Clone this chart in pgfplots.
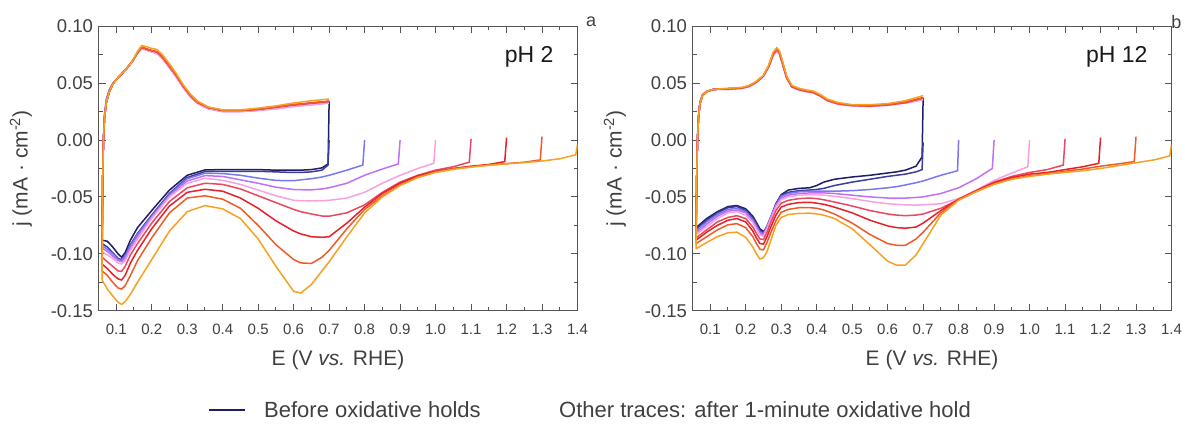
\documentclass[border=0pt]{standalone}
\usepackage{fontspec}
\setmainfont{Liberation Sans}
\usepackage{pgfplots}
\usepackage{pgfplotstable}
\pgfplotsset{compat=1.18}
\definecolor{tn0}{HTML}{1E1E64}
\definecolor{tn1}{HTML}{3C3CA0}
\definecolor{tb}{HTML}{7878F0}
\definecolor{tp}{HTML}{C070F8}
\definecolor{tk}{HTML}{F8A0E0}
\definecolor{tc}{HTML}{E84860}
\definecolor{tr}{HTML}{E82028}
\definecolor{to}{HTML}{F05A28}
\definecolor{ty}{HTML}{F8A020}
\definecolor{txt}{HTML}{404040}
\definecolor{axg}{HTML}{555555}

% pH 2, cathodic sweeps (from the hold potential down)
\pgfplotstableread{
E n0 n1 b p k c r o y
1.400 nan nan nan nan nan nan nan nan -0.004
1.395 nan nan nan nan nan nan nan nan -0.013
1.350 nan nan nan nan nan nan nan nan -0.0165
1.300 nan nan nan nan nan nan nan 0.003 -0.0185
1.295 nan nan nan nan nan nan nan -0.0175 nan
1.250 nan nan nan nan nan nan nan -0.0195 -0.0198
1.200 nan nan nan nan nan nan 0.002 -0.0207 -0.021
1.195 nan nan nan nan nan nan -0.019 nan nan
1.150 nan nan nan nan nan nan -0.0215 -0.022 -0.0222
1.100 nan nan nan nan nan 0.001 -0.023 -0.0235 -0.0238
1.095 nan nan nan nan nan -0.0195 nan nan nan
1.050 nan nan nan nan nan -0.0235 -0.025 -0.0253 -0.0258
1.000 nan nan nan nan 0.000 -0.0265 -0.0275 -0.028 -0.0285
0.995 nan nan nan nan -0.0205 nan nan nan nan
0.950 nan nan nan nan -0.025 -0.031 -0.0315 -0.0325 -0.033
0.900 nan nan nan 0.000 -0.031 -0.037 -0.038 -0.0395 -0.040
0.895 nan nan nan -0.021 nan nan nan nan nan
0.850 nan nan nan -0.0255 -0.038 -0.046 -0.047 -0.049 -0.050
0.800 nan nan 0.000 -0.031 -0.046 -0.057 -0.059 -0.061 -0.064
0.795 nan nan -0.022 nan nan nan nan nan nan
0.750 nan nan -0.0265 -0.038 -0.051 -0.064 -0.073 -0.078 -0.085
0.700 0.034 0.000 -0.031 -0.042 -0.053 -0.067 -0.085 -0.097 -0.107
0.697 -0.021 -0.022 nan nan nan nan nan nan nan
0.680 -0.0245 -0.0265 -0.0325 -0.043 -0.0533 -0.0668 -0.0855 -0.103 -0.115
0.650 -0.026 -0.028 -0.034 -0.0438 -0.0535 -0.065 -0.085 -0.1085 -0.127
0.620 -0.0265 -0.0285 -0.035 -0.0437 -0.0533 -0.063 -0.0825 -0.108 -0.1345
0.600 -0.0265 -0.0285 -0.0358 -0.0435 -0.053 -0.061 -0.080 -0.105 -0.133
0.575 -0.0265 -0.0283 -0.0357 -0.0425 -0.051 -0.058 -0.0755 -0.0985 -0.122
0.550 -0.0265 -0.028 -0.0355 -0.0415 -0.049 -0.055 -0.071 -0.092 -0.111
0.500 -0.026 -0.0275 -0.0335 -0.038 -0.044 -0.049 -0.060 -0.075 -0.087
0.450 -0.026 -0.0275 -0.031 -0.035 -0.039 -0.043 -0.051 -0.060 -0.069
0.400 -0.026 -0.0275 -0.0295 -0.032 -0.0355 -0.039 -0.045 -0.052 -0.0605
0.350 -0.0263 -0.0278 -0.0292 -0.0313 -0.0336 -0.038 -0.0433 -0.049 -0.0576
0.300 -0.031 -0.033 -0.034 -0.036 -0.038 -0.042 -0.046 -0.051 -0.063
0.250 -0.044 -0.047 -0.048 -0.049 -0.050 -0.054 -0.058 -0.064 -0.080
0.200 -0.062 -0.066 -0.067 -0.068 -0.069 -0.073 -0.078 -0.086 -0.105
0.160 -0.077 -0.082 -0.083 -0.085 -0.087 -0.091 -0.097 -0.106 -0.125
0.140 -0.088 -0.092 -0.093 -0.095 -0.097 -0.101 -0.108 -0.119 -0.1355
0.125 -0.099 -0.101 -0.102 -0.104 -0.106 -0.111 -0.119 -0.128 -0.142
0.115 -0.103 -0.105 -0.106 -0.107 -0.109 -0.1155 -0.123 -0.131 -0.1445
0.105 -0.100 -0.104 -0.105 -0.106 -0.108 -0.115 -0.122 -0.130 -0.1425
0.090 -0.094 -0.099 -0.100 -0.102 -0.104 -0.111 -0.118 -0.125 -0.137
0.075 -0.089 -0.094 -0.096 -0.098 -0.101 -0.107 -0.113 -0.119 -0.131
0.060 -0.088 -0.091 -0.093 -0.095 -0.098 -0.103 -0.109 -0.115 -0.123
}\LC

% pH 2, anodic sweeps (up to 0.7 V)
\pgfplotstableread{
E n0 n1 b p k c r o y
0.060 -0.088 -0.091 -0.093 -0.095 -0.098 -0.103 -0.109 -0.115 -0.123
0.062 -0.030 -0.030 -0.030 -0.030 -0.030 -0.030 -0.030 -0.030 -0.030
0.064 0.000 0.000 0.004 0.000 0.000 0.000 0.000 0.000 0.000
0.067 0.020 0.020 0.024 0.020 0.020 0.020 0.020 0.020 0.020
0.072 0.033 0.033 0.036 0.033 0.033 0.033 0.033 0.033 0.033
0.080 0.042 0.042 0.044 0.042 0.042 0.042 0.042 0.042 0.042
0.090 0.049 0.049 0.050 0.049 0.049 0.049 0.049 0.049 0.049
0.100 0.053 0.053 0.053 0.053 0.053 0.053 0.053 0.053 0.053
0.115 0.058 0.058 0.058 0.058 0.058 0.058 0.058 0.058 0.058
0.130 0.063 0.063 0.063 0.063 0.063 0.063 0.063 0.063 0.063
0.145 0.069 0.069 0.069 0.069 0.069 0.069 0.069 0.069 0.069
0.160 0.0765 0.0765 0.0765 0.0765 0.0765 0.077 0.077 0.077 0.078
0.172 0.081 0.081 0.081 0.0805 0.0805 0.0815 0.0815 0.0815 0.083
0.185 0.0795 0.0795 0.0795 0.079 0.079 0.080 0.080 0.080 0.082
0.200 0.078 0.078 0.078 0.0775 0.0775 0.0785 0.0785 0.0785 0.0805
0.215 0.0765 0.0765 0.0765 0.076 0.076 0.0775 0.0775 0.0775 0.0795
0.230 0.072 0.072 0.072 0.0715 0.0715 0.073 0.073 0.073 0.075
0.250 0.064 0.064 0.064 0.0635 0.0635 0.065 0.065 0.065 0.067
0.270 0.0555 0.0555 0.0555 0.055 0.055 0.0565 0.0565 0.0565 0.058
0.290 0.046 0.046 0.046 0.0455 0.0455 0.047 0.047 0.047 0.048
0.310 0.038 0.038 0.038 0.0375 0.0375 0.039 0.039 0.039 0.040
0.330 0.0325 0.0325 0.0325 0.032 0.032 0.033 0.033 0.033 0.034
0.360 0.028 0.028 0.028 0.0275 0.0275 0.0285 0.0285 0.0285 0.029
0.400 0.0255 0.0255 0.0255 0.025 0.025 0.026 0.026 0.026 0.0265
0.450 0.0255 0.0255 0.0255 0.025 0.025 0.026 0.026 0.026 0.0265
0.500 0.0265 0.0265 0.0265 0.026 0.026 0.027 0.027 0.027 0.028
0.550 0.028 0.028 0.028 0.0275 0.0275 0.029 0.029 0.029 0.030
0.600 0.030 0.030 0.030 0.0295 0.0295 0.031 0.031 0.031 0.0325
0.650 0.0315 0.0315 0.0315 0.031 0.031 0.0325 0.0325 0.0325 0.0345
0.700 0.034 0.033 0.033 0.0325 0.0325 0.034 0.034 0.034 0.036
}\LA

% pH 12, cathodic sweeps
\pgfplotstableread{
E n0 n1 b p k c r o y
1.400 nan nan nan nan nan nan nan nan -0.004
1.395 nan nan nan nan nan nan nan nan -0.014
1.350 nan nan nan nan nan nan nan nan -0.0175
1.300 nan nan nan nan nan nan nan 0.003 -0.020
1.295 nan nan nan nan nan nan nan -0.019 nan
1.250 nan nan nan nan nan nan nan -0.021 -0.0225
1.200 nan nan nan nan nan nan 0.002 -0.023 -0.025
1.195 nan nan nan nan nan nan -0.0205 nan nan
1.150 nan nan nan nan nan nan -0.0235 -0.0255 -0.027
1.100 nan nan nan nan nan 0.001 -0.026 -0.0275 -0.0285
1.095 nan nan nan nan nan -0.022 nan nan nan
1.050 nan nan nan nan nan -0.026 -0.0285 -0.0295 -0.030
1.000 nan nan nan nan 0.000 -0.0285 -0.030 -0.0315 -0.032
0.995 nan nan nan nan -0.0235 nan nan nan nan
0.950 nan nan nan nan -0.029 -0.032 -0.033 -0.034 -0.0345
0.900 nan nan nan 0.000 -0.0355 -0.037 -0.0375 -0.0385 -0.039
0.895 nan nan nan -0.025 nan nan nan nan nan
0.850 nan nan nan -0.034 -0.044 -0.0445 -0.0445 -0.045 -0.0455
0.800 nan nan 0.000 -0.042 -0.0515 -0.0525 -0.052 -0.0525 -0.053
0.797 nan nan -0.027 nan nan nan nan nan nan
0.750 nan nan -0.031 -0.047 -0.056 -0.060 -0.062 -0.064 -0.066
0.700 0.037 -0.002 -0.036 -0.050 -0.057 -0.065 -0.073 -0.081 -0.091
0.697 -0.015 -0.026 nan nan nan nan nan nan nan
0.680 -0.023 -0.028 -0.0375 -0.0505 -0.0572 -0.066 -0.0765 -0.087 -0.101
0.650 -0.0265 -0.030 -0.0395 -0.051 -0.057 -0.0665 -0.0775 -0.0925 -0.110
0.625 -0.028 -0.031 -0.041 -0.051 -0.0565 -0.066 -0.077 -0.0925 -0.110
0.600 -0.029 -0.032 -0.042 -0.051 -0.056 -0.065 -0.0755 -0.091 -0.1065
0.550 -0.031 -0.0345 -0.0435 -0.050 -0.054 -0.062 -0.0705 -0.083 -0.092
0.500 -0.0325 -0.037 -0.0445 -0.0485 -0.0515 -0.058 -0.064 -0.073 -0.078
0.450 -0.0345 -0.040 -0.045 -0.047 -0.0495 -0.0545 -0.059 -0.065 -0.069
0.420 -0.037 -0.0425 -0.045 -0.0465 -0.0485 -0.0525 -0.0565 -0.0615 -0.066
0.400 -0.040 -0.0435 -0.045 -0.0465 -0.048 -0.0515 -0.0555 -0.060 -0.065
0.380 -0.042 -0.044 -0.045 -0.0465 -0.048 -0.051 -0.0547 -0.0594 -0.0643
0.350 -0.0425 -0.0445 -0.0455 -0.047 -0.0485 -0.0515 -0.055 -0.0595 -0.0645
0.320 -0.044 -0.046 -0.047 -0.0485 -0.050 -0.053 -0.0565 -0.061 -0.0655
0.300 -0.048 -0.0485 -0.0495 -0.051 -0.0525 -0.0555 -0.059 -0.0635 -0.068
0.285 -0.056 -0.0565 -0.057 -0.058 -0.059 -0.062 -0.066 -0.071 -0.075
0.270 -0.069 -0.068 -0.068 -0.069 -0.070 -0.073 -0.077 -0.082 -0.089
0.260 -0.077 -0.0755 -0.076 -0.077 -0.078 -0.081 -0.085 -0.090 -0.098
0.250 -0.0805 -0.0815 -0.0825 -0.0835 -0.0845 -0.0875 -0.0915 -0.0965 -0.1035
0.240 -0.078 -0.0795 -0.081 -0.0825 -0.0835 -0.087 -0.091 -0.096 -0.1045
0.230 -0.0725 -0.074 -0.0755 -0.077 -0.078 -0.082 -0.086 -0.091 -0.100
0.220 -0.067 -0.0685 -0.070 -0.0715 -0.0725 -0.0765 -0.080 -0.085 -0.094
0.200 -0.0605 -0.062 -0.063 -0.064 -0.066 -0.069 -0.072 -0.077 -0.0855
0.175 -0.0576 -0.0585 -0.060 -0.0615 -0.063 -0.0665 -0.069 -0.0735 -0.081
0.150 -0.0585 -0.0595 -0.061 -0.0625 -0.064 -0.068 -0.0705 -0.0745 -0.0815
0.120 -0.063 -0.064 -0.0655 -0.067 -0.069 -0.072 -0.075 -0.079 -0.085
0.090 -0.069 -0.0705 -0.072 -0.074 -0.076 -0.079 -0.081 -0.085 -0.090
0.060 -0.077 -0.078 -0.080 -0.082 -0.083 -0.086 -0.088 -0.091 -0.0956
}\RC

% pH 12, anodic sweeps
\pgfplotstableread{
E n0 n1 b p k c r o y
0.060 -0.077 -0.078 -0.080 -0.082 -0.083 -0.086 -0.088 -0.091 -0.0956
0.062 -0.030 -0.030 -0.030 -0.030 -0.030 -0.030 -0.030 -0.030 -0.030
0.064 0.000 0.000 0.003 0.000 0.000 0.000 0.000 0.000 0.000
0.067 0.020 0.020 0.023 0.020 0.020 0.020 0.020 0.020 0.020
0.071 0.032 0.032 0.034 0.032 0.032 0.032 0.032 0.032 0.032
0.078 0.039 0.039 0.040 0.039 0.039 0.039 0.039 0.039 0.039
0.090 0.0425 0.0425 0.043 0.0425 0.0425 0.0425 0.0425 0.0425 0.0425
0.110 0.0445 0.0445 0.0445 0.0445 0.0445 0.0445 0.0445 0.0445 0.0445
0.150 0.045 0.045 0.045 0.0445 0.0445 0.045 0.045 0.045 0.0455
0.190 0.0458 0.0458 0.0458 0.0453 0.0453 0.0458 0.0458 0.0458 0.0463
0.210 0.0475 0.0475 0.0475 0.047 0.047 0.0475 0.0475 0.0475 0.048
0.230 0.051 0.051 0.051 0.0505 0.0505 0.051 0.051 0.051 0.0515
0.250 0.0565 0.0565 0.0565 0.056 0.056 0.0565 0.0565 0.0565 0.057
0.265 0.065 0.065 0.065 0.0645 0.0645 0.065 0.065 0.065 0.066
0.277 0.075 0.075 0.075 0.0745 0.0745 0.0755 0.0755 0.0755 0.077
0.287 0.0785 0.0785 0.0785 0.078 0.078 0.0795 0.0795 0.0795 0.081
0.295 0.076 0.076 0.076 0.0755 0.0755 0.077 0.077 0.077 0.0785
0.305 0.066 0.066 0.066 0.0655 0.0655 0.0665 0.0665 0.0665 0.068
0.315 0.055 0.055 0.055 0.0545 0.0545 0.0555 0.0555 0.0555 0.0565
0.330 0.047 0.047 0.047 0.0465 0.0465 0.047 0.047 0.047 0.048
0.350 0.0445 0.0445 0.0445 0.044 0.044 0.0445 0.0445 0.0445 0.0455
0.370 0.043 0.043 0.043 0.0425 0.0425 0.043 0.043 0.043 0.044
0.390 0.042 0.042 0.042 0.0415 0.0415 0.042 0.042 0.042 0.043
0.410 0.039 0.039 0.039 0.0385 0.0385 0.039 0.039 0.039 0.040
0.430 0.035 0.035 0.035 0.0345 0.0345 0.035 0.035 0.035 0.036
0.460 0.032 0.032 0.032 0.0315 0.0315 0.032 0.032 0.032 0.033
0.500 0.0305 0.0305 0.0305 0.030 0.030 0.0305 0.0305 0.0305 0.031
0.550 0.030 0.030 0.030 0.0295 0.0295 0.030 0.030 0.030 0.031
0.600 0.031 0.031 0.031 0.0305 0.0305 0.031 0.031 0.031 0.032
0.650 0.033 0.033 0.033 0.0325 0.0325 0.033 0.033 0.033 0.0345
0.700 0.037 0.036 0.036 0.0355 0.0355 0.037 0.037 0.037 0.039
}\RA

\pgfplotsset{
  cvaxis/.style={
    scale only axis, width=479pt, height=284.5pt,
    xmin=0.05, xmax=1.4, ymin=-0.15, ymax=0.10,
    xtick={0.1,0.2,0.3,0.4,0.5,0.6,0.7,0.8,0.9,1.0,1.1,1.2,1.3,1.4},
    xticklabels={0.1,0.2,0.3,0.4,0.5,0.6,0.7,0.8,0.9,1.0,1.1,1.2,1.3,1.4},
    minor xtick={0.05,0.15,0.25,0.35,0.45,0.55,0.65,0.75,0.85,0.95,1.05,1.15,1.25,1.35},
    ytick={-0.15,-0.10,-0.05,0,0.05,0.10},
    yticklabels={-0.15,-0.10,-0.05,0.00,0.05,0.10},
    minor ytick={-0.125,-0.075,-0.025,0.025,0.075},
    tick align=inside, major tick length=7pt, minor tick length=4pt,
    axis line style={draw=axg, line width=1.3pt},
    every tick/.style={draw=axg, line width=1pt},
    tick label style={text=txt},
    xticklabel style={font=\fontsize{15}{18}\selectfont, yshift=-10pt},
    yticklabel style={font=\fontsize{18.5}{21}\selectfont, xshift=-2pt},
    label style={text=txt, font=\fontsize{21}{25}\selectfont},
    xlabel={E (V \textit{vs.} RHE)},
    ylabel={j (mA · cm\textsuperscript{-2})},
    xlabel style={at={(axis description cs:0.5,-0.1909)}, anchor=base},
    ylabel style={at={(axis description cs:-0.1618,0.5)}, anchor=center},
    every axis plot/.append style={line width=1.5pt, no markers},
  }
}

\begin{document}
\begin{tikzpicture}
\path[use as bounding box] (0,0) rectangle (1185pt,423pt);

\begin{axis}[cvaxis, at={(98.5pt,112.3pt)}, anchor=south west,
  legend columns=2,
  legend image code/.code={\draw[#1] (0pt,0pt) -- (36pt,0pt);},
  legend style={at={(axis description cs:0.2286,-0.349)}, anchor=west,
    draw=none, fill=none, inner sep=0pt, text=txt,
    font=\fontsize{22}{26}\selectfont, nodes={inner sep=0pt},
    /tikz/every odd column/.style={column sep=18pt},
    /tikz/every even column/.style={column sep=60.5pt}},
  legend cell align=left]
\addlegendimage{tn0, line width=2pt}
\addlegendentry{Before oxidative holds}
\addlegendimage{empty legend}
\addlegendentry{Other traces: after 1-minute oxidative hold}
\pgfplotsinvokeforeach{n0,n1,b,p,k,c,r,o,y}{
  \addplot[draw=t#1] table[x=E,y=#1]{\LA};
  \addplot[draw=t#1] table[x=E,y=#1]{\LC};
}
\node[anchor=base east, font=\fontsize{23}{27}\selectfont, text=black!90] at (rel axis cs:0.957,0.874) {pH 2};
\end{axis}

\begin{axis}[cvaxis, at={(692.5pt,112.3pt)}, anchor=south west]
\pgfplotsinvokeforeach{n0,n1,b,p,k,c,r,o,y}{
  \addplot[draw=t#1] table[x=E,y=#1]{\RA};
  \addplot[draw=t#1] table[x=E,y=#1]{\RC};
}
\node[anchor=base east, font=\fontsize{23}{27}\selectfont, text=black!90] at (rel axis cs:0.957,0.874) {pH 12};
\end{axis}

\node[font=\fontsize{18}{20}\selectfont, text=txt] at (591pt,401pt) {a};
\node[font=\fontsize{18}{20}\selectfont, text=txt, anchor=east] at (1185pt,401pt) {b};
\end{tikzpicture}
\end{document}
